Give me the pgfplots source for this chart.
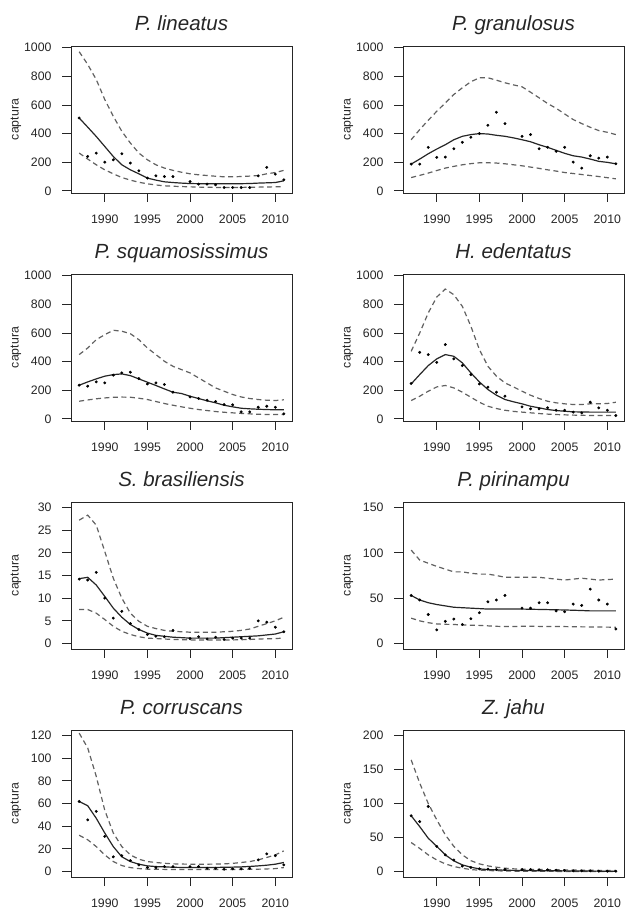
\documentclass[border=0pt]{standalone}
\usepackage{fontspec}
\setmainfont{Liberation Sans}
\usepackage{pgfplots}
\pgfplotsset{compat=1.18}
\pgfplotsset{
  panel/.style={
    scale only axis, width=221pt, height=147pt,
    xmin=1986.04, xmax=2011.96,
    xtick={1990,1995,2000,2005,2010},
    xtick pos=left, ytick pos=left,
    tick align=outside, major tick length=9pt,
    /pgf/number format/assume math mode=true,
    /pgf/number format/1000 sep={},
    ticklabel style={font=\fontsize{12.3}{14}\selectfont, text=black!85},
    xticklabel style={yshift=-9.5pt},
    yticklabel style={xshift=-7pt},
    axis line style={black!85, line width=0.9pt},
    tick style={black!85, line width=0.9pt},
    ylabel=captura,
    ylabel style={at={(axis description cs:-0.249,0.5)}, anchor=center, font=\fontsize{12.3}{14}\selectfont, text=black!85},
    title style={at={(axis description cs:0.5,1)}, anchor=base, yshift=9pt, font=\fontsize{20.5}{24}\selectfont\itshape, text=black!85},
    clip=false,
  },
  big/.style={ymin=-15, ymax=1012, ytick={0,200,400,600,800,1000}},
  fit/.style={black!85, line width=1.2pt, no marks},
  band/.style={black!62, line width=1.2pt, dash pattern=on 5pt off 3.5pt, no marks},
  obs/.style={only marks, mark=*, mark size=1.25pt, black},
}
\begin{document}
\begin{tikzpicture}
\useasboundingbox (0,0) rectangle (625pt,909pt);
% ---------- Row 1 ----------
\begin{axis}[panel, big, at={(71pt,716pt)}, anchor=south west, title={P. lineatus}]
\addplot[band] coordinates {(1987,972)(1988,883)(1989,778)(1990,638)(1991,521)(1992,416)(1993,334)(1994,264)(1995,217)(1996,182)(1997,159)(1998,143)(1999,130)(2000,119)(2001,112)(2002,107)(2003,102)(2004,98)(2005,98)(2006,100)(2007,103)(2008,107)(2009,119)(2010,128)(2011,143)};
\addplot[band] coordinates {(1987,264)(1988,222)(1989,182)(1990,147)(1991,119)(1992,93)(1993,75)(1994,60)(1995,49)(1996,41)(1997,35)(1998,32)(1999,30)(2000,28)(2001,26)(2002,25)(2003,24)(2004,23)(2005,23)(2006,24)(2007,25)(2008,26)(2009,27)(2010,28)(2011,28)};
\addplot[fit] coordinates {(1987,509)(1988,445)(1989,380)(1990,310)(1991,240)(1992,182)(1993,147)(1994,119)(1995,89)(1996,75)(1997,63)(1998,58)(1999,54)(2000,51)(2001,50)(2002,49)(2003,49)(2004,49)(2005,49)(2006,50)(2007,51)(2008,54)(2009,56)(2010,58)(2011,70)};
\addplot[obs] coordinates {(1987,509)(1988,240)(1989,264)(1990,200)(1991,217)(1992,259)(1993,194)(1994,140)(1995,89)(1996,105)(1997,100)(1998,100)(2000,65)(2001,47)(2002,47)(2003,42)(2004,23)(2005,23)(2006,23)(2007,23)(2008,105)(2009,164)(2010,117)(2011,77)};
\end{axis}
\begin{axis}[panel, big, at={(403pt,716pt)}, anchor=south west, title={P. granulosus}]
\addplot[band] coordinates {(1987,357)(1988,428)(1989,493)(1990,556)(1991,614)(1992,673)(1993,720)(1994,762)(1995,790)(1996,790)(1997,773)(1998,755)(1999,740)(2000,727)(2001,689)(2002,650)(2003,610)(2004,577)(2005,537)(2006,498)(2007,470)(2008,444)(2009,421)(2010,409)(2011,393)};
\addplot[band] coordinates {(1987,93)(1988,108)(1989,124)(1990,142)(1991,159)(1992,171)(1993,182)(1994,190)(1995,196)(1996,196)(1997,194)(1998,189)(1999,182)(2000,175)(2001,166)(2002,157)(2003,147)(2004,138)(2005,128)(2006,121)(2007,114)(2008,107)(2009,100)(2010,92)(2011,84)};
\addplot[fit] coordinates {(1987,187)(1988,222)(1989,259)(1990,292)(1991,322)(1992,357)(1993,381)(1994,393)(1995,400)(1996,397)(1997,388)(1998,381)(1999,370)(2000,357)(2001,343)(2002,322)(2003,304)(2004,283)(2005,262)(2006,245)(2007,236)(2008,222)(2009,206)(2010,199)(2011,189)};
\addplot[obs] coordinates {(1987,187)(1988,187)(1989,304)(1990,234)(1991,236)(1992,294)(1993,339)(1994,374)(1995,400)(1996,458)(1997,549)(1998,470)(2000,381)(2001,393)(2002,294)(2003,304)(2004,276)(2005,304)(2006,201)(2007,159)(2008,245)(2009,229)(2010,236)(2011,189)};
\end{axis}
% ---------- Row 2 ----------
\begin{axis}[panel, big, at={(71pt,488pt)}, anchor=south west, title={P. squamosissimus}]
\addplot[band] coordinates {(1987,449)(1988,495)(1989,553)(1990,588)(1991,619)(1992,612)(1993,595)(1994,553)(1995,495)(1996,449)(1997,402)(1998,367)(1999,344)(2000,321)(2001,286)(2002,251)(2003,216)(2004,193)(2005,170)(2006,153)(2007,142)(2008,135)(2009,130)(2010,128)(2011,133)};
\addplot[band] coordinates {(1987,123)(1988,132)(1989,140)(1990,146)(1991,151)(1992,152)(1993,151)(1994,144)(1995,135)(1996,121)(1997,107)(1998,95)(1999,84)(2000,74)(2001,65)(2002,58)(2003,51)(2004,46)(2005,42)(2006,38)(2007,35)(2008,32)(2009,30)(2010,30)(2011,30)};
\addplot[fit] coordinates {(1987,235)(1988,258)(1989,279)(1990,298)(1991,309)(1992,314)(1993,302)(1994,279)(1995,256)(1996,233)(1997,209)(1998,186)(1999,177)(2000,158)(2001,142)(2002,126)(2003,112)(2004,95)(2005,84)(2006,74)(2007,70)(2008,67)(2009,65)(2010,63)(2011,63)};
\addplot[obs] coordinates {(1987,235)(1988,228)(1989,258)(1990,251)(1991,305)(1992,321)(1993,326)(1994,281)(1995,244)(1996,251)(1997,240)(1998,186)(2000,153)(2001,142)(2002,130)(2003,121)(2004,100)(2005,98)(2006,49)(2007,49)(2008,81)(2009,88)(2010,81)(2011,35)};
\end{axis}
\begin{axis}[panel, big, at={(403pt,488pt)}, anchor=south west, title={H. edentatus}]
\addplot[band] coordinates {(1987,472)(1988,600)(1989,740)(1990,851)(1991,907)(1992,867)(1993,786)(1994,647)(1995,484)(1996,367)(1997,298)(1998,251)(1999,223)(2000,193)(2001,165)(2002,142)(2003,123)(2004,112)(2005,105)(2006,100)(2007,100)(2008,105)(2009,105)(2010,107)(2011,116)};
\addplot[band] coordinates {(1987,128)(1988,158)(1989,193)(1990,223)(1991,233)(1992,216)(1993,186)(1994,151)(1995,116)(1996,88)(1997,72)(1998,60)(1999,52)(2000,47)(2001,42)(2002,37)(2003,33)(2004,30)(2005,28)(2006,26)(2007,25)(2008,23)(2009,23)(2010,23)(2011,23)};
\addplot[fit] coordinates {(1987,244)(1988,309)(1989,372)(1990,419)(1991,449)(1992,437)(1993,391)(1994,321)(1995,258)(1996,205)(1997,165)(1998,135)(1999,119)(2000,105)(2001,88)(2002,77)(2003,65)(2004,58)(2005,53)(2006,49)(2007,48)(2008,47)(2009,47)(2010,47)(2011,47)};
\addplot[obs] coordinates {(1987,247)(1988,465)(1989,449)(1990,395)(1991,519)(1992,419)(1993,372)(1994,309)(1995,244)(1996,221)(1997,186)(1998,158)(2000,84)(2001,70)(2002,70)(2003,77)(2004,60)(2005,60)(2006,47)(2007,42)(2008,116)(2009,77)(2010,60)(2011,23)};
\end{axis}
% ---------- Row 3 ----------
\begin{axis}[panel, at={(71pt,260pt)}, anchor=south west, title={S. brasiliensis}, ymin=-1.2, ymax=31.2, ytick={0,5,10,15,20,25,30}]
\addplot[band] coordinates {(1987,27.2)(1988,28.3)(1989,26.1)(1990,20.3)(1991,14.4)(1992,10.0)(1993,6.7)(1994,4.9)(1995,3.8)(1996,3.3)(1997,2.9)(1998,2.7)(1999,2.6)(2000,2.5)(2001,2.5)(2002,2.5)(2003,2.5)(2004,2.6)(2005,2.7)(2006,2.9)(2007,3.2)(2008,3.8)(2009,4.4)(2010,5.0)(2011,5.8)};
\addplot[band] coordinates {(1987,7.5)(1988,7.5)(1989,6.7)(1990,5.3)(1991,3.8)(1992,2.7)(1993,2.0)(1994,1.5)(1995,1.2)(1996,1.1)(1997,1.0)(1998,0.9)(1999,0.85)(2000,0.8)(2001,0.8)(2002,0.8)(2003,0.8)(2004,0.8)(2005,0.8)(2006,0.85)(2007,0.9)(2008,1.0)(2009,1.05)(2010,1.1)(2011,1.2)};
\addplot[fit] coordinates {(1987,14.3)(1988,14.6)(1989,12.9)(1990,10.4)(1991,7.8)(1992,5.8)(1993,4.2)(1994,3.1)(1995,2.3)(1996,1.8)(1997,1.6)(1998,1.4)(1999,1.3)(2000,1.2)(2001,1.2)(2002,1.2)(2003,1.2)(2004,1.3)(2005,1.4)(2006,1.5)(2007,1.6)(2008,1.7)(2009,1.9)(2010,2.1)(2011,2.6)};
\addplot[obs] coordinates {(1987,14.2)(1988,14.0)(1989,15.7)(1990,10.0)(1991,5.6)(1992,7.1)(1993,4.4)(1994,3.1)(1995,2.0)(1996,1.6)(1997,1.5)(1998,2.9)(2000,1.1)(2001,1.5)(2002,1.0)(2003,1.4)(2004,0.9)(2005,1.2)(2006,1.2)(2007,1.2)(2008,5.0)(2009,4.7)(2010,3.6)(2011,2.6)};
\end{axis}
\begin{axis}[panel, at={(403pt,260pt)}, anchor=south west, title={P. pirinampu}, ymin=-6, ymax=156, ytick={0,50,100,150}]
\addplot[band] coordinates {(1987,103)(1988,92)(1989,88.5)(1990,85)(1991,82)(1992,79)(1993,79)(1994,77.5)(1995,76.5)(1996,76.5)(1997,75)(1998,73)(1999,73)(2000,73)(2001,73)(2002,73)(2003,72)(2004,71)(2005,70)(2006,71)(2007,72)(2008,71)(2009,70)(2010,70.5)(2011,71)};
\addplot[band] coordinates {(1987,28)(1988,25)(1989,23)(1990,21.6)(1991,21.2)(1992,21)(1993,20.5)(1994,20.2)(1995,20)(1996,19.5)(1997,19)(1998,18.7)(1999,18.8)(2000,19)(2001,19)(2002,18.9)(2003,18.8)(2004,18.7)(2005,18.7)(2006,18.5)(2007,18.4)(2008,18.3)(2009,18.2)(2010,18.1)(2011,18)};
\addplot[fit] coordinates {(1987,53)(1988,48)(1989,45)(1990,43)(1991,41.5)(1992,40)(1993,39.5)(1994,39)(1995,38.5)(1996,38)(1997,38)(1998,38)(1999,38)(2000,38)(2001,37.8)(2002,37.6)(2003,37.4)(2004,37.2)(2005,37)(2006,36.7)(2007,36.4)(2008,36)(2009,36)(2010,36)(2011,36)};
\addplot[obs] coordinates {(1987,53)(1988,48)(1989,32)(1990,15)(1991,24.5)(1992,27)(1993,21)(1994,27.4)(1995,34)(1996,46)(1997,48)(1998,53)(2000,39)(2001,39)(2002,45)(2003,45)(2004,36)(2005,35)(2006,43.5)(2007,42)(2008,60)(2009,48)(2010,43.5)(2011,16)};
\end{axis}
% ---------- Row 4 ----------
\begin{axis}[panel, at={(71pt,32pt)}, anchor=south west, title={P. corruscans}, ymin=-4.8, ymax=124.8, ytick={0,20,40,60,80,100,120}]
\addplot[band] coordinates {(1987,122)(1988,109)(1989,84)(1990,54)(1991,34)(1992,22)(1993,14.7)(1994,10.9)(1995,8.8)(1996,8)(1997,7.3)(1998,6.8)(1999,6.6)(2000,6.5)(2001,6.5)(2002,6.5)(2003,6.6)(2004,6.8)(2005,7.2)(2006,8)(2007,8.8)(2008,10.3)(2009,12.4)(2010,14.7)(2011,18.2)};
\addplot[band] coordinates {(1987,32)(1988,28)(1989,22)(1990,14.7)(1991,8.8)(1992,5.3)(1993,3.5)(1994,2.6)(1995,2.1)(1996,2)(1997,1.9)(1998,1.8)(1999,1.8)(2000,1.8)(2001,1.8)(2002,1.8)(2003,1.8)(2004,1.8)(2005,1.8)(2006,1.9)(2007,2)(2008,2.1)(2009,2.3)(2010,2.6)(2011,3.5)};
\addplot[fit] coordinates {(1987,61.8)(1988,58)(1989,47)(1990,34)(1991,22)(1992,13)(1993,8.8)(1994,6.5)(1995,5)(1996,4.4)(1997,4.1)(1998,3.8)(1999,3.6)(2000,3.5)(2001,3.5)(2002,3.5)(2003,3.6)(2004,3.8)(2005,3.9)(2006,4.1)(2007,4.5)(2008,5)(2009,5.6)(2010,6.5)(2011,8)};
\addplot[obs] coordinates {(1987,61.8)(1988,45.6)(1989,53)(1990,31)(1991,13)(1992,14)(1993,9.7)(1994,5.9)(1995,3.5)(1996,3.5)(1997,4.4)(1998,4.4)(2000,4.4)(2001,4.4)(2002,2.9)(2003,2.9)(2004,2.1)(2005,2.4)(2006,2.4)(2007,2.9)(2008,10.3)(2009,15.6)(2010,14)(2011,5.9)};
\end{axis}
\begin{axis}[panel, at={(403pt,32pt)}, anchor=south west, title={Z. jahu}, ymin=-8, ymax=208, ytick={0,50,100,150,200}]
\addplot[band] coordinates {(1987,164)(1988,130)(1989,100)(1990,76)(1991,54)(1992,37)(1993,24.5)(1994,16)(1995,11.3)(1996,8.3)(1997,6.4)(1998,4.9)(1999,4)(2000,3.4)(2001,3.2)(2002,3)(2003,2.8)(2004,2.6)(2005,2.5)(2006,2.3)(2007,2.1)(2008,1.9)(2009,1.7)(2010,1.6)(2011,1.5)};
\addplot[band] coordinates {(1987,42.6)(1988,34)(1989,24.5)(1990,17)(1991,11.3)(1992,7.4)(1993,4.9)(1994,2.9)(1995,2)(1996,1.5)(1997,1.1)(1998,0.8)(1999,0.6)(2000,0.5)(2001,0.4)(2002,0.3)(2003,0.3)(2004,0.2)(2005,0.2)(2006,0.1)(2007,0.1)(2008,0.1)(2009,0)(2010,0)(2011,0)};
\addplot[fit] coordinates {(1987,82)(1988,66)(1989,49)(1990,37)(1991,24.5)(1992,15.7)(1993,9.8)(1994,6.4)(1995,3.9)(1996,2.9)(1997,2.4)(1998,2)(1999,1.7)(2000,1.5)(2001,1.4)(2002,1.3)(2003,1.2)(2004,1.1)(2005,1)(2006,0.9)(2007,0.8)(2008,0.7)(2009,0.6)(2010,0.5)(2011,0.5)};
\addplot[obs] coordinates {(1987,82)(1988,73.5)(1989,95.6)(1990,37)(1991,24.5)(1992,17)(1993,8)(1994,6)(1995,4)(1996,3.5)(1997,3)(1998,3)(2000,3)(2001,3)(2002,2.5)(2003,2.5)(2004,2)(2005,1.5)(2006,1)(2007,1)(2008,1)(2009,0.5)(2010,0.5)(2011,0.5)};
\end{axis}
\end{tikzpicture}
\end{document}
